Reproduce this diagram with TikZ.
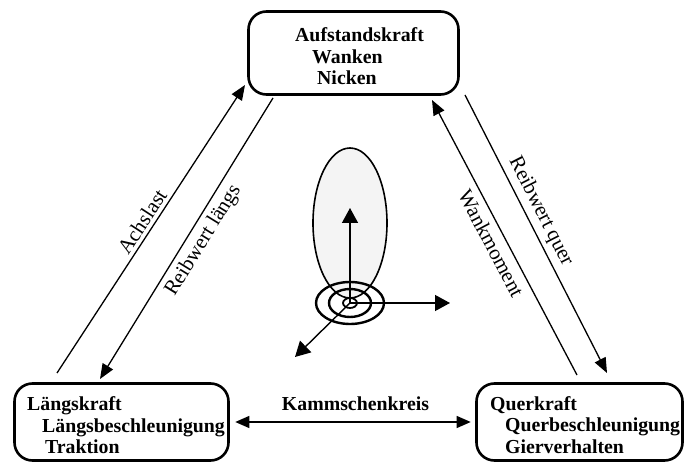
\documentclass[tikz,border=0pt]{standalone}
\usepackage{fontspec}
\setmainfont{Liberation Serif}
\usetikzlibrary{arrows.meta}
\definecolor{lobe}{HTML}{F4F4F4}
\begin{document}
\begin{tikzpicture}[x=1pt,y=-1pt,
  box/.style={draw, line width=2.6pt, rounded corners=18pt, inner sep=0pt},
  boxtext/.style={font=\fontsize{19.8}{21.5}\selectfont\bfseries, inner sep=0pt, anchor=base west},
  conn/.style={line width=1.3pt, -{Triangle[length=15pt,width=12pt]}},
  vec/.style={line width=1.4pt, -{Triangle[length=15pt,width=16pt]}},
  lbl/.style={font=\fontsize{21}{22}\selectfont, sloped, inner sep=0pt},
]
\useasboundingbox (0,0) rectangle (686,465);

% the three quantity boxes
\node[box, minimum width=210pt, minimum height=83pt] (auf) at (353.5,53) {};
\node[box, minimum width=214pt, minimum height=77pt] (laengs) at (121.5,422) {};
\node[box, minimum width=206pt, minimum height=77pt] (quer) at (579.5,422) {};

\node[boxtext] (auftext) at (295,41.7)
  {\begin{tabular}[t]{@{}l@{}}Aufstandskraft\\\hspace*{17pt}Wanken\\\hspace*{22pt}Nicken\end{tabular}};
\node[boxtext] (laengstext) at (27,410.7)
  {\begin{tabular}[t]{@{}l@{}}Längskraft\\\hspace*{15pt}Längsbeschleunigung\\\hspace*{18pt}Traktion\end{tabular}};
\node[boxtext] (quertext) at (490,410)
  {\begin{tabular}[t]{@{}l@{}}Querkraft\\\hspace*{15pt}Querbeschleunigung\\\hspace*{15pt}Gierverhalten\end{tabular}};

% couplings between the boxes
\coordinate (a0) at (57,373);   \coordinate (a1) at (245,85);
\coordinate (r0) at (273,98);   \coordinate (r1) at (100,379);
\coordinate (q0) at (465,95);   \coordinate (q1) at (607,373);
\coordinate (w0) at (577,375);  \coordinate (w1) at (432,100);

\draw[conn] (a0) -- node[lbl, pos=0.504, above=3.5pt] (achslast) {Achslast} (a1);
\draw[conn] (r0) -- node[lbl, pos=0.478, below=5.3pt] (rlaengs) {Reibwert längs} (r1);
\draw[conn] (q0) -- node[lbl, pos=0.443, above=4.2pt] (rquer) {Reibwert quer} (q1);
\draw[conn] (w0) -- node[lbl, pos=0.503, below=6.3pt] (wank) {Wankmoment} (w1);

\draw[line width=1.3pt, {Triangle[length=14pt,width=12pt]}-{Triangle[length=14pt,width=12pt]},
      shorten <=5.5pt, shorten >=4.5pt]
  (laengs.east) -- node[above=11pt, inner sep=0pt, xshift=3pt,
                        font=\fontsize{19.8}{21.5}\selectfont\bfseries] (kamm) {Kammschenkreis}
  (quer.west);

% tyre contact sketch in the middle
\coordinate (hub) at (350,303);
\draw[line width=1.6pt, fill=lobe] (350,223) ellipse [x radius=37, y radius=75];
\draw[line width=2.4pt] (hub) ellipse [x radius=34, y radius=21];
\draw[line width=2.4pt] (hub) ellipse [x radius=21, y radius=14];
\draw[line width=1.8pt] (hub) ellipse [x radius=7, y radius=5];
\coordinate (up) at (350,208);
\coordinate (side) at (450,303);
\coordinate (diag) at (295,357);
\draw[vec] (hub) -- (up);
\draw[vec] (hub) -- (side);
\draw[vec] (hub) -- (diag);
\end{tikzpicture}
\end{document}
